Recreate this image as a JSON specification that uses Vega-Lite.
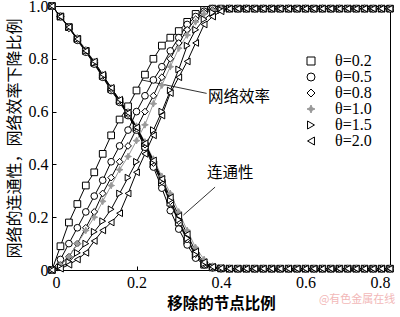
{
  "$schema": "https://vega.github.io/schema/vega-lite/v6.json",
  "width": 338,
  "height": 264,
  "autosize": {"type": "none"},
  "padding": {"left": 52, "top": 6, "right": 10, "bottom": 47},
  "background": "white",
  "title": {"text": "@有色金属在线", "orient": "bottom", "anchor": "end", "color": "#f2b8b8", "font": "Noto Sans CJK SC", "fontSize": 11, "fontWeight": "normal", "offset": -18},
  "config": {
    "view": {"stroke": "black", "strokeWidth": 1},
    "axis": {"grid": false, "domainColor": "black", "tickColor": "black", "tickSize": -4, "labelPadding": 8, "labelFont": "Liberation Serif", "labelFontSize": 16, "labelColor": "black", "titleColor": "black", "titleFont": "Noto Sans CJK SC"},
    "legend": {"labelFont": "Liberation Serif", "labelFontSize": 16, "labelColor": "black", "padding": 0, "rowPadding": 0, "symbolStrokeWidth": 1}
  },
  "datasets": {
    "eff": [
      {"x": 0, "p2": 0, "p5": 0, "p8": 0, "p10": 0, "p15": 0, "p20": 0},
      {"x": 0.02, "p2": 0.09, "p5": 0.04, "p8": 0.02, "p10": 0.02, "p15": 0.01, "p20": 0.005},
      {"x": 0.04, "p2": 0.18, "p5": 0.1, "p8": 0.05, "p10": 0.05, "p15": 0.03, "p20": 0.02},
      {"x": 0.06, "p2": 0.25, "p5": 0.16, "p8": 0.1, "p10": 0.1, "p15": 0.065, "p20": 0.04},
      {"x": 0.08, "p2": 0.32, "p5": 0.22, "p8": 0.16, "p10": 0.15, "p15": 0.1, "p20": 0.065},
      {"x": 0.1, "p2": 0.37, "p5": 0.28, "p8": 0.22, "p10": 0.2, "p15": 0.145, "p20": 0.11},
      {"x": 0.12, "p2": 0.44, "p5": 0.34, "p8": 0.29, "p10": 0.26, "p15": 0.185, "p20": 0.15},
      {"x": 0.14, "p2": 0.51, "p5": 0.41, "p8": 0.35, "p10": 0.32, "p15": 0.23, "p20": 0.18},
      {"x": 0.16, "p2": 0.57, "p5": 0.47, "p8": 0.41, "p10": 0.38, "p15": 0.29, "p20": 0.215},
      {"x": 0.18, "p2": 0.62, "p5": 0.53, "p8": 0.47, "p10": 0.43, "p15": 0.35, "p20": 0.29},
      {"x": 0.2, "p2": 0.68, "p5": 0.6, "p8": 0.535, "p10": 0.49, "p15": 0.41, "p20": 0.37},
      {"x": 0.22, "p2": 0.74, "p5": 0.66, "p8": 0.6, "p10": 0.55, "p15": 0.47, "p20": 0.44},
      {"x": 0.24, "p2": 0.8, "p5": 0.72, "p8": 0.66, "p10": 0.63, "p15": 0.53, "p20": 0.51},
      {"x": 0.26, "p2": 0.85, "p5": 0.77, "p8": 0.73, "p10": 0.7, "p15": 0.6, "p20": 0.585},
      {"x": 0.28, "p2": 0.88, "p5": 0.83, "p8": 0.8, "p10": 0.77, "p15": 0.68, "p20": 0.67},
      {"x": 0.3, "p2": 0.905, "p5": 0.88, "p8": 0.86, "p10": 0.84, "p15": 0.76, "p20": 0.73},
      {"x": 0.32, "p2": 0.94, "p5": 0.93, "p8": 0.91, "p10": 0.89, "p15": 0.85, "p20": 0.79},
      {"x": 0.34, "p2": 0.97, "p5": 0.96, "p8": 0.95, "p10": 0.94, "p15": 0.91, "p20": 0.86},
      {"x": 0.36, "p2": 0.985, "p5": 0.98, "p8": 0.975, "p10": 0.97, "p15": 0.95, "p20": 0.93},
      {"x": 0.38, "p2": 0.99, "p5": 0.99, "p8": 0.985, "p10": 0.985, "p15": 0.975, "p20": 0.96},
      {"x": 0.4, "p2": 0.99, "p5": 0.99, "p8": 0.99, "p10": 0.99, "p15": 0.985, "p20": 0.98},
      {"x": 0.42, "p2": 0.99, "p5": 0.99, "p8": 0.99, "p10": 0.99, "p15": 0.99, "p20": 0.99},
      {"x": 0.44, "p2": 0.99, "p5": 0.99, "p8": 0.99, "p10": 0.99, "p15": 0.99, "p20": 0.99},
      {"x": 0.46, "p2": 0.99, "p5": 0.99, "p8": 0.99, "p10": 0.99, "p15": 0.99, "p20": 0.99},
      {"x": 0.48, "p2": 0.99, "p5": 0.99, "p8": 0.99, "p10": 0.99, "p15": 0.99, "p20": 0.99},
      {"x": 0.5, "p2": 0.99, "p5": 0.99, "p8": 0.99, "p10": 0.99, "p15": 0.99, "p20": 0.99},
      {"x": 0.52, "p2": 0.99, "p5": 0.99, "p8": 0.99, "p10": 0.99, "p15": 0.99, "p20": 0.99},
      {"x": 0.54, "p2": 0.99, "p5": 0.99, "p8": 0.99, "p10": 0.99, "p15": 0.99, "p20": 0.99},
      {"x": 0.56, "p2": 0.99, "p5": 0.99, "p8": 0.99, "p10": 0.99, "p15": 0.99, "p20": 0.99},
      {"x": 0.58, "p2": 0.99, "p5": 0.99, "p8": 0.99, "p10": 0.99, "p15": 0.99, "p20": 0.99},
      {"x": 0.6, "p2": 0.99, "p5": 0.99, "p8": 0.99, "p10": 0.99, "p15": 0.99, "p20": 0.99},
      {"x": 0.62, "p2": 0.99, "p5": 0.99, "p8": 0.99, "p10": 0.99, "p15": 0.99, "p20": 0.99},
      {"x": 0.64, "p2": 0.99, "p5": 0.99, "p8": 0.99, "p10": 0.99, "p15": 0.99, "p20": 0.99},
      {"x": 0.66, "p2": 0.99, "p5": 0.99, "p8": 0.99, "p10": 0.99, "p15": 0.99, "p20": 0.99},
      {"x": 0.68, "p2": 0.99, "p5": 0.99, "p8": 0.99, "p10": 0.99, "p15": 0.99, "p20": 0.99},
      {"x": 0.7, "p2": 0.99, "p5": 0.99, "p8": 0.99, "p10": 0.99, "p15": 0.99, "p20": 0.99},
      {"x": 0.72, "p2": 0.99, "p5": 0.99, "p8": 0.99, "p10": 0.99, "p15": 0.99, "p20": 0.99},
      {"x": 0.74, "p2": 0.99, "p5": 0.99, "p8": 0.99, "p10": 0.99, "p15": 0.99, "p20": 0.99},
      {"x": 0.76, "p2": 0.99, "p5": 0.99, "p8": 0.99, "p10": 0.99, "p15": 0.99, "p20": 0.99},
      {"x": 0.78, "p2": 0.99, "p5": 0.99, "p8": 0.99, "p10": 0.99, "p15": 0.99, "p20": 0.99},
      {"x": 0.8, "p2": 0.99, "p5": 0.99, "p8": 0.99, "p10": 0.99, "p15": 0.99, "p20": 0.99}
    ],
    "con": [
      {"x": 0, "p2": 1, "p5": 1, "p8": 1, "p10": 1, "p15": 1, "p20": 1},
      {"x": 0.02, "p2": 0.96, "p5": 0.96, "p8": 0.96, "p10": 0.96, "p15": 0.96, "p20": 0.96},
      {"x": 0.04, "p2": 0.92, "p5": 0.92, "p8": 0.915, "p10": 0.92, "p15": 0.92, "p20": 0.92},
      {"x": 0.06, "p2": 0.875, "p5": 0.87, "p8": 0.875, "p10": 0.88, "p15": 0.875, "p20": 0.875},
      {"x": 0.08, "p2": 0.83, "p5": 0.825, "p8": 0.83, "p10": 0.835, "p15": 0.83, "p20": 0.83},
      {"x": 0.1, "p2": 0.785, "p5": 0.78, "p8": 0.785, "p10": 0.79, "p15": 0.785, "p20": 0.79},
      {"x": 0.12, "p2": 0.735, "p5": 0.73, "p8": 0.735, "p10": 0.74, "p15": 0.735, "p20": 0.74},
      {"x": 0.14, "p2": 0.685, "p5": 0.68, "p8": 0.685, "p10": 0.69, "p15": 0.69, "p20": 0.69},
      {"x": 0.16, "p2": 0.64, "p5": 0.635, "p8": 0.64, "p10": 0.645, "p15": 0.64, "p20": 0.645},
      {"x": 0.18, "p2": 0.59, "p5": 0.585, "p8": 0.59, "p10": 0.6, "p15": 0.595, "p20": 0.595},
      {"x": 0.2, "p2": 0.535, "p5": 0.53, "p8": 0.535, "p10": 0.545, "p15": 0.54, "p20": 0.54},
      {"x": 0.22, "p2": 0.47, "p5": 0.465, "p8": 0.475, "p10": 0.485, "p15": 0.48, "p20": 0.48},
      {"x": 0.24, "p2": 0.4, "p5": 0.39, "p8": 0.405, "p10": 0.42, "p15": 0.41, "p20": 0.415},
      {"x": 0.26, "p2": 0.33, "p5": 0.31, "p8": 0.335, "p10": 0.355, "p15": 0.34, "p20": 0.345},
      {"x": 0.28, "p2": 0.255, "p5": 0.225, "p8": 0.26, "p10": 0.29, "p15": 0.265, "p20": 0.275},
      {"x": 0.3, "p2": 0.18, "p5": 0.155, "p8": 0.185, "p10": 0.22, "p15": 0.19, "p20": 0.205},
      {"x": 0.32, "p2": 0.11, "p5": 0.095, "p8": 0.115, "p10": 0.15, "p15": 0.12, "p20": 0.135},
      {"x": 0.34, "p2": 0.055, "p5": 0.045, "p8": 0.06, "p10": 0.085, "p15": 0.06, "p20": 0.07},
      {"x": 0.36, "p2": 0.02, "p5": 0.02, "p8": 0.025, "p10": 0.04, "p15": 0.025, "p20": 0.03},
      {"x": 0.38, "p2": 0.01, "p5": 0.008, "p8": 0.01, "p10": 0.015, "p15": 0.01, "p20": 0.012},
      {"x": 0.4, "p2": 0.006, "p5": 0.005, "p8": 0.006, "p10": 0.008, "p15": 0.006, "p20": 0.007},
      {"x": 0.42, "p2": 0.005, "p5": 0.005, "p8": 0.005, "p10": 0.005, "p15": 0.005, "p20": 0.005},
      {"x": 0.44, "p2": 0.005, "p5": 0.005, "p8": 0.005, "p10": 0.005, "p15": 0.005, "p20": 0.005},
      {"x": 0.46, "p2": 0.005, "p5": 0.005, "p8": 0.005, "p10": 0.005, "p15": 0.005, "p20": 0.005},
      {"x": 0.48, "p2": 0.005, "p5": 0.005, "p8": 0.005, "p10": 0.005, "p15": 0.005, "p20": 0.005},
      {"x": 0.5, "p2": 0.005, "p5": 0.005, "p8": 0.005, "p10": 0.005, "p15": 0.005, "p20": 0.005},
      {"x": 0.52, "p2": 0.005, "p5": 0.005, "p8": 0.005, "p10": 0.005, "p15": 0.005, "p20": 0.005},
      {"x": 0.54, "p2": 0.005, "p5": 0.005, "p8": 0.005, "p10": 0.005, "p15": 0.005, "p20": 0.005},
      {"x": 0.56, "p2": 0.005, "p5": 0.005, "p8": 0.005, "p10": 0.005, "p15": 0.005, "p20": 0.005},
      {"x": 0.58, "p2": 0.005, "p5": 0.005, "p8": 0.005, "p10": 0.005, "p15": 0.005, "p20": 0.005},
      {"x": 0.6, "p2": 0.005, "p5": 0.005, "p8": 0.005, "p10": 0.005, "p15": 0.005, "p20": 0.005},
      {"x": 0.62, "p2": 0.005, "p5": 0.005, "p8": 0.005, "p10": 0.005, "p15": 0.005, "p20": 0.005},
      {"x": 0.64, "p2": 0.005, "p5": 0.005, "p8": 0.005, "p10": 0.005, "p15": 0.005, "p20": 0.005},
      {"x": 0.66, "p2": 0.005, "p5": 0.005, "p8": 0.005, "p10": 0.005, "p15": 0.005, "p20": 0.005},
      {"x": 0.68, "p2": 0.005, "p5": 0.005, "p8": 0.005, "p10": 0.005, "p15": 0.005, "p20": 0.005},
      {"x": 0.7, "p2": 0.005, "p5": 0.005, "p8": 0.005, "p10": 0.005, "p15": 0.005, "p20": 0.005},
      {"x": 0.72, "p2": 0.005, "p5": 0.005, "p8": 0.005, "p10": 0.005, "p15": 0.005, "p20": 0.005},
      {"x": 0.74, "p2": 0.005, "p5": 0.005, "p8": 0.005, "p10": 0.005, "p15": 0.005, "p20": 0.005},
      {"x": 0.76, "p2": 0.005, "p5": 0.005, "p8": 0.005, "p10": 0.005, "p15": 0.005, "p20": 0.005},
      {"x": 0.78, "p2": 0.005, "p5": 0.005, "p8": 0.005, "p10": 0.005, "p15": 0.005, "p20": 0.005},
      {"x": 0.8, "p2": 0.005, "p5": 0.005, "p8": 0.005, "p10": 0.005, "p15": 0.005, "p20": 0.005}
    ],
    "notes": [
      {"x": 0.369, "y": 0.655, "t": "网络效率"},
      {"x": 0.367, "y": 0.367, "t": "连通性"}
    ],
    "pointers": [
      {"x": 0.212, "y": 0.72, "x2": 0.366, "y2": 0.669},
      {"x": 0.386, "y": 0.314, "x2": 0.311, "y2": 0.208}
    ]
  },
  "layer": [
    {
      "data": {"name": "pointers"},
      "mark": {"type": "rule", "color": "#333", "strokeWidth": 1},
      "encoding": {
        "x": {"field": "x", "type": "quantitative", "scale": {"domain": [0, 0.8], "nice": false}, "axis": {"title": "移除的节点比例", "titleFontSize": 15.5, "titleFontWeight": "bold", "titlePadding": 6, "values": [0, 0.2, 0.4, 0.6, 0.8], "labelExpr": "datum.value == 0 ? '0' : format(datum.value, '.1f')"}},
        "y": {"field": "y", "type": "quantitative", "scale": {"domain": [0, 1], "nice": false}, "axis": {"title": "网络的连通性，网络效率下降比例", "titleFontSize": 16, "titleFontWeight": "normal", "titlePadding": 6, "values": [0, 0.2, 0.4, 0.6, 0.8, 1], "labelExpr": "datum.value == 0 ? '0' : format(datum.value, '.1f')"}},
        "x2": {"field": "x2"},
        "y2": {"field": "y2"}
      }
    },
    {
      "data": {"name": "notes"},
      "mark": {"type": "text", "align": "left", "baseline": "middle", "font": "Noto Sans CJK SC", "fontSize": 15.5, "color": "black"},
      "encoding": {
        "x": {"field": "x", "type": "quantitative"},
        "y": {"field": "y", "type": "quantitative"},
        "text": {"field": "t"}
      }
    },
    {
      "data": {"name": "eff"},
      "transform": [{"fold": ["p2", "p5", "p8", "p10", "p15", "p20"]}],
      "mark": {"type": "line", "strokeWidth": 1},
      "encoding": {
        "x": {"field": "x", "type": "quantitative"},
        "y": {"field": "value", "type": "quantitative"},
        "stroke": {"field": "key", "type": "nominal", "scale": {"domain": ["p2", "p5", "p8", "p10", "p15", "p20"], "range": ["black", "black", "black", "#999999", "black", "black"]}},
        "detail": {"field": "key"}
      }
    },
    {
      "data": {"name": "con"},
      "transform": [{"fold": ["p2", "p5", "p8", "p10", "p15", "p20"]}],
      "mark": {"type": "line", "strokeWidth": 1},
      "encoding": {
        "x": {"field": "x", "type": "quantitative"},
        "y": {"field": "value", "type": "quantitative"},
        "stroke": {"field": "key", "type": "nominal"},
        "detail": {"field": "key"}
      }
    },
    {
      "data": {"name": "eff"},
      "transform": [{"fold": ["p2", "p5", "p8", "p10", "p15", "p20"]}],
      "mark": {"type": "point", "size": 45, "strokeWidth": 1, "opacity": 1},
      "encoding": {
        "x": {"field": "x", "type": "quantitative"},
        "y": {"field": "value", "type": "quantitative"},
        "stroke": {"field": "key", "type": "nominal"},
        "fill": {"field": "key", "type": "nominal", "scale": {"domain": ["p2", "p5", "p8", "p10", "p15", "p20"], "range": ["white", "white", "white", "#999999", "white", "white"]}},
        "shape": {"field": "key", "type": "nominal", "scale": {"domain": ["p2", "p5", "p8", "p10", "p15", "p20"], "range": ["square", "circle", "diamond", "M0,-1L0.3,-0.3L1,0L0.3,0.3L0,1L-0.3,0.3L-1,0L-0.3,-0.3Z", "triangle-right", "triangle-left"]},
          "legend": {
            "title": null, "orient": "none", "legendX": 251, "legendY": 47, "padding": 0, "rowPadding": 0,
            "labelFont": "Liberation Serif", "labelFontSize": 16, "labelColor": "black", "labelOffset": 16,
            "symbolSize": 64, "symbolStrokeWidth": 1,
            "labelExpr": "['θ=0.2','θ=0.5','θ=0.8','θ=1.0','θ=1.5','θ=2.0'][indexof(['p2','p5','p8','p10','p15','p20'], datum.value)]"
          }
        }
      }
    },
    {
      "data": {"name": "con"},
      "transform": [{"fold": ["p2", "p5", "p8", "p10", "p15", "p20"]}],
      "mark": {"type": "point", "size": 45, "strokeWidth": 1, "opacity": 1},
      "encoding": {
        "x": {"field": "x", "type": "quantitative"},
        "y": {"field": "value", "type": "quantitative"},
        "stroke": {"field": "key", "type": "nominal"},
        "fill": {"field": "key", "type": "nominal"},
        "shape": {"field": "key", "type": "nominal"}
      }
    }
  ]
}
